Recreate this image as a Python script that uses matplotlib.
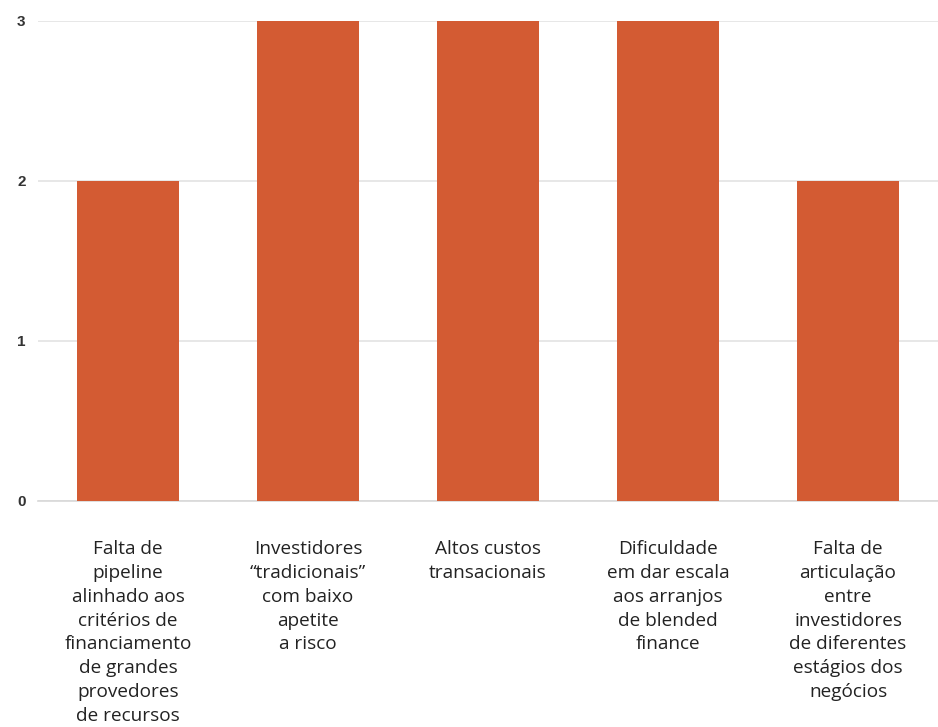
import matplotlib
matplotlib.use("Agg")
import matplotlib.pyplot as plt
import numpy as np

categories = [
    "Falta de\npipeline\nalinhado aos\ncritérios de\nfinanciamento\nde grandes\nprovedores\nde recursos",
    "Investidores\n“tradicionais”\ncom baixo\napetite\na risco",
    "Altos custos\ntransacionais",
    "Dificuldade\nem dar escala\naos arranjos\nde blended\nfinance",
    "Falta de\narticulação\nentre\ninvestidores\nde diferentes\nestágios dos\nnegócios",
]
values = [2, 3, 3, 3, 2]
yticks = [0, 1, 2, 3]

BAR_COLOR = "#D35B33"

fig = plt.figure(figsize=(9.38, 7.27), dpi=100)
ax = fig.add_axes([38 / 938, 1 - 501 / 727, 1 - 38 / 938, (501 - 21) / 727])

x = np.arange(len(categories))
ax.bar(x, values, width=0.565, color=BAR_COLOR, zorder=3)

ax.set_xlim(-0.5, len(categories) - 0.5)
ax.set_ylim(0, 3)
ax.set_yticks(yticks)
ax.set_yticklabels([str(t) for t in yticks], fontsize=11, fontweight="bold",
                   color="#333333", family="Liberation Sans")
ax.grid(axis="y", color="#e3e3e3", linewidth=1.2, zorder=0)
ax.tick_params(axis="y", length=0, pad=9)
ax.tick_params(axis="x", length=0, pad=28)

ax.set_xticks(x)
ax.set_xticklabels(categories, fontsize=13.7, family="Open Sans",
                   color="#222222", linespacing=1.42, va="top")

for side in ["top", "right", "left"]:
    ax.spines[side].set_visible(False)
ax.spines["bottom"].set_color("#d8d8d8")
ax.spines["bottom"].set_linewidth(1.2)

fig.savefig("out.png", dpi=100)
